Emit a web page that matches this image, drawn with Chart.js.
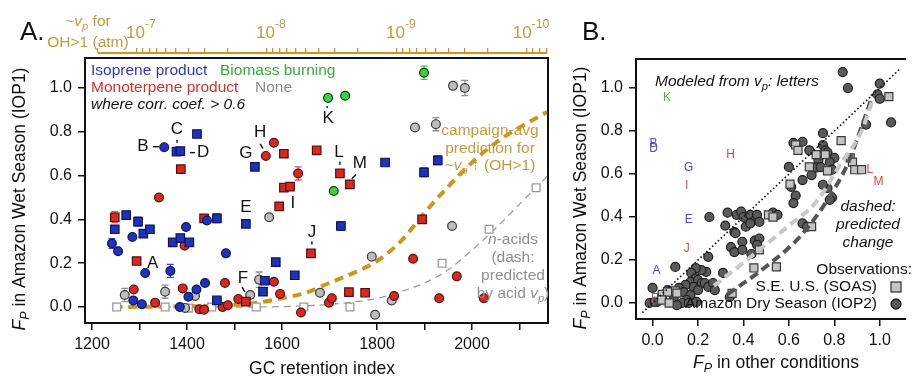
<!DOCTYPE html>
<html>
<head>
<meta charset="utf-8">
<script src="https://cdn.jsdelivr.net/npm/chart.js@4.4.1/dist/chart.umd.min.js"></script>
<style>
  body { margin: 0; background: #fff; width: 913px; height: 379px; overflow: hidden; position: relative; }
  canvas { position: absolute; top: 0; }
  #a { left: 0; }
  #b { left: 560px; }
</style>
</head>
<body>
<canvas id="a" width="560" height="379"></canvas>
<canvas id="b" width="353" height="379"></canvas>
<script>
// ---- panel A: GC retention index vs Fp in IOP1 ----
const isopreneCircles = [[1352,0.73],[1285,0.32],[1242,0.29],[1255,0.255],[1398,0.365],[1442,0.395],[1482,0.245],[1312,0.155],[1365,0.165],[1287,0.03],[1305,0.013],[1385,0.0],[1403,0.047],[1420,0.08],[1438,0.11]];
const isopreneSquares = [[1378,0.71],[1386,0.712],[1421,0.79],[1543,0.64],[1524,0.38],[1248,0.355],[1272,0.42],[1297,0.39],[1308,0.335],[1322,0.355],[1370,0.295],[1386,0.315],[1405,0.295],[1463,0.405],[1587,0.205],[1463,0.03],[1560,0.07],[1564,0.12],[1627,0.145],[1724,0.37],[1817,0.66],[1899,0.615],[1928,0.67]];
const monoCircles = [[1341,0.50],[1566,0.69],[1583,0.75],[1634,0.61],[1395,0.28],[1288,0.08],[1333,0.02],[1391,0.085],[1426,-0.01],[1436,-0.012],[1480,0.11],[1475,0.0],[1486,0.008],[1508,0.037],[1583,0.115],[1596,0.06],[1640,-0.025],[1699,0.02],[1705,0.04],[1836,0.05],[1876,0.22],[1931,0.04],[1968,0.14],[2025,0.04]];
const monoSquares = [[1387,0.63],[1604,0.70],[1604,0.545],[1617,0.55],[1594,0.46],[1248,0.41],[1436,0.405],[1294,0.21],[1524,0.025],[1661,0.245],[1673,0.715],[1722,0.61],[1743,0.56],[1741,0.068],[1775,0.065],[1895,0.40]];
const biomassCircles = [[1697,0.955],[1733,0.965],[1709,0.53],[1899,1.07]];
const noneCircles = [[1269,0.055],[1354,0.07],[1396,-0.004],[1417,0.05],[1533,0.055],[1552,0.125],[1573,0.41],[1680,0.065],[1789,0.23],[1796,-0.035],[1831,0.03],[1880,0.82],[1924,0.835],[1958,0.37],[1960,1.01],[1985,1.0]];
const nAcids = [[1252,0.0],[1354,0.0],[1403,-0.005],[1452,0.0],[1546,0.0],[1646,0.0],[1743,0.0],[1937,0.2],[2036,0.355],[2135,0.545]];

// error bars: [x, y, half width]
const isopreneErr = [[1242,0.29,0.022],[1365,0.165,0.03],[1297,0.39,0.02],[1463,0.405,0.02],[1724,0.37,0.02],[1899,0.615,0.02],[1928,0.67,0.02],[1386,0.712,0.012]];
const monoErr = [[1248,0.41,0.025],[1634,0.61,0.03],[1387,0.63,0.015],[1294,0.21,0.015]];
const biomassErr = [[1899,1.07,0.03]];
const noneErr = [[1269,0.055,0.03],[1354,0.07,0.03],[1552,0.125,0.035],[1924,0.835,0.03],[1985,1.0,0.035]];

// campaign-avg prediction and n-acid prediction curves
const predX = [1245,1400,1500,1550,1600,1650,1700,1750,1800,1850,1900,1950,2000,2050,2100,2158];
const predY = [0.0,0.003,0.01,0.02,0.04,0.065,0.11,0.155,0.21,0.30,0.43,0.55,0.66,0.75,0.82,0.89];
const acidX = [1250,1500,1600,1700,1800,1850,1900,1950,2000,2050,2100,2160];
const acidY = [0,0,0.002,0.012,0.04,0.07,0.11,0.17,0.26,0.36,0.47,0.6];

// letters next to points: [letter, x, y]
const letterTags = [['B',1307,0.736],['C',1379,0.81],['D',1434,0.705],['G',1524,0.70],['H',1554,0.80],['E',1524,0.455],['I',1623,0.473],['J',1663,0.34],['K',1697,0.864],['L',1720,0.705],['M',1764,0.655],['A',1328,0.20],['F',1518,0.132]];
const leaders = [[1328,0.732,1341,0.732],[1379,0.764,1379,0.75],[1406,0.705,1417,0.705],[1554,0.745,1560,0.723],[1663,0.30,1663,0.286],[1695,0.918,1695,0.909],[1722,0.664,1722,0.65],[1756,0.605,1747,0.586],[1516,0.091,1522,0.068]];

const vpDecades = [-7, -8, -9, -10];

// ---- panel B: Fp in other conditions vs Fp in IOP1 ----
const iop2Points = [[0.837,1.074],[0.86,1.0],[1.0,1.02],[1.05,0.84],[0.94,0.83],[0.99,0.97],[1.0,0.95],[0.75,0.79],[0.66,0.75],[0.62,0.745],[0.69,0.71],[0.75,0.735],[0.76,0.71],[0.77,0.70],[0.80,0.675],[0.78,0.655],[0.73,0.665],[0.72,0.63],[0.74,0.632],[0.79,0.62],[0.60,0.633],[0.66,0.572],[0.70,0.595],[0.77,0.535],[0.79,0.49],[0.75,0.55],[0.61,0.54],[0.63,0.50],[0.62,0.465],[0.78,0.48],
  [0.25,0.40],[0.33,0.42],[0.37,0.41],[0.39,0.425],[0.40,0.40],[0.43,0.41],[0.45,0.385],[0.46,0.41],[0.47,0.377],[0.53,0.42],[0.55,0.41],[0.32,0.36],[0.36,0.33],[0.41,0.355],[0.43,0.37],[0.365,0.325],[0.395,0.285],[0.345,0.26],[0.36,0.237],[0.395,0.247],[0.45,0.29],[0.47,0.30],[0.46,0.27],[0.435,0.228],[0.31,0.14],[0.245,0.215],[0.236,0.145],[0.215,0.153],[0.19,0.162],[0.10,0.168],[0.66,0.37],[0.68,0.355],
  [0.17,0.14],[0.19,0.115],[0.167,0.098],[0.20,0.107],[0.216,0.093],[0.23,0.093],[0.245,0.075],[0.266,0.093],[0.274,0.06],[0.18,0.075],[0.145,0.084],[0.116,0.07],[0.137,0.051],[0.167,0.037],[0.20,0.06],[0.15,0.014],[0.094,0.028],[0.066,0.06],[0.043,0.037],[0.13,0.0],[0.159,0.0],[0.193,0.005],[0.34,0.028],[0.0,0.07],[0.02,0.005],[-0.013,0.0],[0.107,-0.01],[0.009,0.005]];
const soasPoints = [[1.04,0.96],[0.83,0.755],[0.63,0.735],[0.64,0.71],[0.72,0.69],[0.76,0.69],[0.87,0.675],[0.88,0.655],[0.89,0.62],[0.92,0.62],[0.69,0.633],[0.77,0.615],[0.605,0.553],[0.51,0.41],[0.53,0.40],[0.47,0.247],[0.446,0.163],[0.545,0.168],[0.70,0.355],[0.35,0.045],[0.043,0.04],[0.10,0.056],[0.107,0.046],[0.066,0.051],[0.04,0.014],[0.073,0.0]];
const soasPredX = [0.27,0.45,0.6,0.72,0.83,0.92,0.97];
const soasPredY = [0.08,0.23,0.36,0.47,0.65,0.80,0.95];
const iop2PredX = [0.33,0.5,0.65,0.77,0.86,0.92,0.97];
const iop2PredY = [0.04,0.17,0.31,0.48,0.65,0.82,0.97];
const oneToOne = [-0.045, 1.09];
const modelLetters = [['K',0.064,0.953,'bb'],['B',0.004,0.742,'iso'],['D',0.004,0.718,'iso'],['G',0.159,0.63,'iso'],['H',0.343,0.688,'mono'],['I',0.15,0.544,'mono'],['L',0.956,0.619,'mono'],['M',0.995,0.563,'mono'],['E',0.159,0.386,'iso'],['J',0.15,0.251,'mono'],['A',0.017,0.149,'iso'],['F',0.009,0.019,'mono']];

const FONT = '"Liberation Sans", Arial, Helvetica, sans-serif';
const GOLD = '#cf951b';
const GOLDTXT = '#c49b3f';
const BLUE = '#1f33b8', RED = '#d42a22', GREEN = '#38d43c', GREY = '#bdbdbd';
const letterColor = { iso: '#4b4bd0', mono: '#d94848', bb: '#3dbf3d' };

Chart.defaults.font.family = FONT;

const pts = a => a.map(([x, y]) => ({x, y}));
const xy = (xs, ys) => xs.map((x, i) => ({x, y: ys[i]}));

function marks(data, shape, fill, edge, r, order) {
  return { data: pts(data), pointStyle: shape, pointRadius: r, pointHoverRadius: r,
    pointBackgroundColor: fill, pointBorderColor: edge, pointBorderWidth: 1.2, order };
}
function curve(data, color, width, dash, order) {
  return { data, showLine: true, borderColor: color, borderWidth: width, borderDash: dash,
    pointRadius: 0, cubicInterpolationMode: 'monotone', fill: false, order };
}

// text with italic / subscript / superscript pieces
function rich(ctx, parts, x, y, align, size, color) {
  ctx.fillStyle = color;
  ctx.textBaseline = 'middle';
  ctx.textAlign = 'left';
  const segs = parts.map(([t, f = '']) => {
    const small = f.includes('s') || f.includes('u');
    const font = (f.includes('i') ? 'italic ' : '') + (small ? size * 0.72 : size) + 'px ' + FONT;
    ctx.font = font;
    const dy = f.includes('s') ? size * 0.32 : f.includes('u') ? -size * 0.5 : 0;
    return { t, font, dy, w: ctx.measureText(t).width };
  });
  const total = segs.reduce((s, g) => s + g.w, 0);
  let cx = align === 'center' ? x - total / 2 : align === 'right' ? x - total : x;
  for (const g of segs) { ctx.font = g.font; ctx.fillText(g.t, cx, y + g.dy); cx += g.w; }
}
function vtitle(ctx, x, y) {
  ctx.save();
  ctx.translate(x, y);
  ctx.rotate(-Math.PI / 2);
  rich(ctx, [['F','i'],['P','is'],[' in Amazon Wet Season (IOP1)']], 0, 0, 'center', 17.5, '#111');
  ctx.restore();
}

const vpMin = Math.pow(10, -10.1615), vpMax = Math.pow(10, -6.6);
const vpTicks = [];
for (let e = -11; e <= -7; e++) {
  for (let m = 1; m <= 9; m++) {
    const v = m * Math.pow(10, e);
    if (v >= vpMin && v <= vpMax) vpTicks.push(v);
  }
}

function drawErr(chart, list, color) {
  const {ctx, scales: {x, y}} = chart;
  ctx.strokeStyle = color; ctx.lineWidth = 1.3;
  for (const [vx, vy, e] of list) {
    const px = x.getPixelForValue(vx), y1 = y.getPixelForValue(vy - e), y2 = y.getPixelForValue(vy + e);
    ctx.beginPath();
    ctx.moveTo(px, y1); ctx.lineTo(px, y2);
    ctx.moveTo(px - 3.5, y1); ctx.lineTo(px + 3.5, y1);
    ctx.moveTo(px - 3.5, y2); ctx.lineTo(px + 3.5, y2);
    ctx.stroke();
  }
}

const panelA = {
  id: 'panelA',
  beforeDatasetsDraw(chart) {
    const ctx = chart.ctx;
    ctx.save();
    drawErr(chart, isopreneErr, '#3a4ad0');
    drawErr(chart, monoErr, '#e05050');
    drawErr(chart, biomassErr, '#30d030');
    drawErr(chart, noneErr, '#909090');
    ctx.restore();
  },
  afterDraw(chart) {
    const {ctx, chartArea: ca, scales: {x, y, vp}} = chart;
    ctx.save();
    // frame
    ctx.strokeStyle = '#111'; ctx.lineWidth = 2;
    ctx.strokeRect(ca.left, ca.top + 5, ca.right - ca.left, ca.bottom - ca.top - 5);
    // top v_p axis line and labels
    ctx.strokeStyle = GOLD; ctx.lineWidth = 2;
    ctx.beginPath();
    ctx.moveTo(vp.getPixelForValue(vpTicks[vpTicks.length - 1]), ca.top);
    ctx.lineTo(vp.getPixelForValue(vpTicks[0]), ca.top);
    ctx.stroke();
    for (const e of vpDecades) {
      rich(ctx, [['10'], [String(e), 'u']], vp.getPixelForValue(Math.pow(10, e)) + 4, 33, 'center', 17, GOLDTXT);
    }
    rich(ctx, [['~'], ['v','i'], ['p','is'], [' for']], 88, 22, 'center', 15.5, GOLDTXT);
    rich(ctx, [['OH>1 (atm)']], 88, 43, 'center', 15.5, GOLDTXT);

    // legend text
    rich(ctx, [['Isoprene product']], ca.left + 6, 71, 'left', 15.5, '#2b3bb5');
    rich(ctx, [['Biomass burning']], ca.left + 135, 71, 'left', 15.5, '#3aaa3f');
    rich(ctx, [['Monoterpene product']], ca.left + 6, 88, 'left', 15.5, '#d03030');
    rich(ctx, [['None']], ca.left + 170, 88, 'left', 15.5, '#8a8a8a');
    rich(ctx, [['where corr. coef. > 0.6','i']], ca.left + 6, 105, 'left', 15.5, '#111');

    // curve notes
    rich(ctx, [['campaign-avg']], 490, 131, 'center', 15.5, GOLDTXT);
    rich(ctx, [['prediction for']], 490, 148.5, 'center', 15.5, GOLDTXT);
    rich(ctx, [['~'], ['v','i'], ['p','is'], [' \u2191 (OH>1)']], 490, 166, 'center', 15.5, GOLDTXT);
    const g = '#8f8f8f';
    rich(ctx, [['n','i'], ['-acids']], 513, 240, 'center', 15.5, g);
    rich(ctx, [['(dash:']], 513, 258, 'center', 15.5, g);
    rich(ctx, [['predicted']], 513, 276, 'center', 15.5, g);
    rich(ctx, [['by acid '], ['v','i'], ['p','is'], [')']], 513, 294, 'center', 15.5, g);

    // letters
    ctx.font = '17px ' + FONT; ctx.fillStyle = '#111';
    ctx.textAlign = 'center'; ctx.textBaseline = 'middle';
    for (const [t, vx, vy] of letterTags) ctx.fillText(t, x.getPixelForValue(vx), y.getPixelForValue(vy));
    ctx.strokeStyle = '#111'; ctx.lineWidth = 1.4;
    for (const [x1, y1, x2, y2] of leaders) {
      ctx.beginPath();
      ctx.moveTo(x.getPixelForValue(x1), y.getPixelForValue(y1));
      ctx.lineTo(x.getPixelForValue(x2), y.getPixelForValue(y2));
      ctx.stroke();
    }

    // titles
    vtitle(ctx, 20, 199);
    rich(ctx, [['GC retention index']], 322, 369, 'center', 17.5, '#111');
    rich(ctx, [['A.']], 20, 33, 'left', 26, '#111');
    ctx.restore();
  }
};

const tickFont = { size: 16, family: FONT };

new Chart(document.getElementById('a'), {
  type: 'scatter',
  data: {
    datasets: [
      marks(biomassCircles, 'circle', GREEN, '#123812', 4.4, 1),
      marks(isopreneSquares, 'rect', BLUE, '#0e1460', 6, 2),
      marks(isopreneCircles, 'circle', BLUE, '#0e1460', 4.4, 2),
      marks(monoSquares, 'rect', RED, '#5b0d0d', 6, 3),
      marks(monoCircles, 'circle', RED, '#5b0d0d', 4.4, 3),
      marks(noneCircles, 'circle', GREY, '#3d3d3d', 4.4, 4),
      { ...marks(nAcids, 'rect', '#ffffff', '#9a9a9a', 5.5, 5), pointBorderWidth: 1.3 },
      curve(xy(predX, predY), GOLD, 4, [9, 6], 6),
      curve(xy(acidX, acidY), '#9a9a9a', 1.3, [7, 5], 7)
    ]
  },
  options: {
    responsive: false,
    animation: false,
    layout: { padding: { top: 0, right: 12, bottom: 0, left: 0 } },
    plugins: { legend: { display: false }, tooltip: { enabled: false } },
    scales: {
      x: {
        type: 'linear', position: 'bottom', min: 1185.3, max: 2160,
        afterFit: s => { s.height = 56; },
        ticks: { stepSize: 100, includeBounds: false, autoSkip: false, maxRotation: 0, padding: 5,
          font: tickFont, color: '#111', callback: v => (v % 200 === 0 ? String(v) : '') },
        grid: { drawOnChartArea: false, tickLength: 7, color: '#111', lineWidth: 1.5 },
        border: { display: false }
      },
      vp: {
        type: 'logarithmic', position: 'top', reverse: true, min: vpMin, max: vpMax,
        afterFit: s => { s.height = 53; },
        afterBuildTicks: s => { s.ticks = vpTicks.map(v => ({ value: v })); },
        ticks: { autoSkip: false, maxRotation: 0, callback: () => '' },
        grid: { drawOnChartArea: false, tickLength: 5, color: GOLD, lineWidth: 1.3 },
        border: { display: false }
      },
      y: {
        min: -0.073, max: 1.16,
        afterFit: s => { s.width = 85; },
        ticks: { stepSize: 0.2, includeBounds: false, padding: 6, font: tickFont, color: '#111',
          callback: v => v.toFixed(1) },
        grid: { drawOnChartArea: false, tickLength: 7, color: '#111', lineWidth: 1.5 },
        border: { display: false }
      }
    }
  },
  plugins: [panelA]
});

const panelB = {
  id: 'panelB',
  afterDraw(chart) {
    const {ctx, chartArea: ca, scales: {x, y}} = chart;
    ctx.save();
    ctx.strokeStyle = '#111'; ctx.lineWidth = 2;
    ctx.beginPath();
    ctx.moveTo(ca.right, ca.top); ctx.lineTo(ca.left, ca.top);
    ctx.lineTo(ca.left, ca.bottom); ctx.lineTo(ca.right, ca.bottom);
    ctx.stroke();

    rich(ctx, [['Modeled from ','i'], ['v','i'], ['p','is'], [': letters','i']], 95, 82, 'left', 15.5, '#111');
    ctx.font = '12px ' + FONT; ctx.textAlign = 'center'; ctx.textBaseline = 'middle';
    for (const [t, vx, vy, c] of modelLetters) {
      ctx.fillStyle = letterColor[c];
      ctx.fillText(t, x.getPixelForValue(vx), y.getPixelForValue(vy));
    }
    rich(ctx, [['dashed:','i']], 308, 207, 'center', 15.5, '#111');
    rich(ctx, [['predicted','i']], 308, 225, 'center', 15.5, '#111');
    rich(ctx, [['change','i']], 308, 243, 'center', 15.5, '#111');

    rich(ctx, [['Observations:']], 352, 270, 'right', 15.5, '#111');
    rich(ctx, [['S.E. U.S. (SOAS)']], 317, 287, 'right', 15.5, '#111');
    rich(ctx, [['Amazon Dry Season (IOP2)']], 317, 304, 'right', 15.5, '#111');
    ctx.lineWidth = 1.3;
    ctx.fillStyle = '#c4c4c4'; ctx.strokeStyle = '#3a3a3a';
    ctx.fillRect(331, 282, 10, 10); ctx.strokeRect(331, 282, 10, 10);
    ctx.fillStyle = '#5a5a5a'; ctx.strokeStyle = '#1e1e1e';
    ctx.beginPath(); ctx.arc(336, 304, 5, 0, Math.PI * 2); ctx.fill(); ctx.stroke();

    vtitle(ctx, 21, 198);
    rich(ctx, [['F','i'], ['P','is'], [' in other conditions']], 216, 363, 'center', 17.5, '#111');
    rich(ctx, [['B.']], 22, 33, 'left', 26, '#111');
    ctx.restore();
  }
};

new Chart(document.getElementById('b'), {
  type: 'scatter',
  data: {
    datasets: [
      curve(xy(oneToOne, oneToOne), '#111', 1.6, [1.6, 2.4], 0),
      curve(xy(soasPredX, soasPredY), '#c8c8c8', 4, [9, 5], 0),
      curve(xy(iop2PredX, iop2PredY), '#555555', 4, [9, 5], 0),
      marks(soasPoints, 'rect', '#c4c4c4', '#3a3a3a', 5.7, 1),
      marks(iop2Points, 'circle', '#5a5a5a', '#1e1e1e', 4.5, 2)
    ]
  },
  options: {
    responsive: false,
    animation: false,
    layout: { padding: { top: 59, right: 0, bottom: 0, left: 0 } },
    plugins: { legend: { display: false }, tooltip: { enabled: false } },
    scales: {
      x: {
        min: -0.073, max: 1.116,
        afterFit: s => { s.height = 60; },
        ticks: { stepSize: 0.2, includeBounds: false, autoSkip: false, maxRotation: 0, padding: 5,
          font: tickFont, color: '#111', callback: v => v.toFixed(1) },
        grid: { drawOnChartArea: false, tickLength: 7, color: '#111', lineWidth: 1.5 },
        border: { display: false }
      },
      y: {
        min: -0.0744, max: 1.135,
        afterFit: s => { s.width = 76; },
        ticks: { stepSize: 0.2, includeBounds: false, padding: 6, font: tickFont, color: '#111',
          callback: v => v.toFixed(1) },
        grid: { drawOnChartArea: false, tickLength: 7, color: '#111', lineWidth: 1.5 },
        border: { display: false }
      }
    }
  },
  plugins: [panelB]
});
</script>
</body>
</html>
